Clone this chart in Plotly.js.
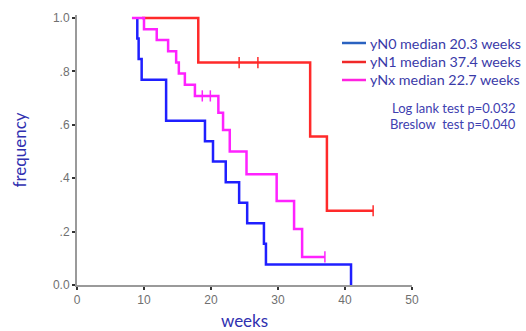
<!DOCTYPE html>
<html>
<head>
<meta charset="utf-8">
<script src="https://cdn.plot.ly/plotly-3.0.1.min.js"></script>
<style>html,body{margin:0;padding:0;background:#fff}#chart{width:526px;height:331px}</style>
</head>
<body>
<div id="chart"></div>
<script>
// Kaplan-Meier step data (weeks, survival frequency)
const yN0_weeks = [9.0, 9.0, 9.2, 9.65, 13.3, 19.1, 20.3, 22.2, 24.2, 25.4, 27.9, 28.2, 40.9];
const yN0_surv  = [1.0, 0.923, 0.846, 0.769, 0.615, 0.538, 0.462, 0.385, 0.308, 0.231, 0.154, 0.077, 0.0];

const yN1_weeks = [9.7, 18.1, 34.8, 37.3, 44.2];
const yN1_surv  = [1.0, 0.833, 0.556, 0.278, 0.278];
const yN1_censor_weeks = [24.2, 27.0, 44.2];
const yN1_censor_surv  = [0.833, 0.833, 0.278];

const yNx_weeks = [8.2, 10.0, 11.9, 13.6, 14.8, 15.2, 16.1, 17.6, 21.1, 21.8, 22.8, 25.3, 29.8, 32.4, 33.6, 37.0];
const yNx_surv  = [1.0, 0.958, 0.917, 0.875, 0.833, 0.792, 0.750, 0.708, 0.645, 0.580, 0.500, 0.415, 0.315, 0.210, 0.105, 0.105];
const yNx_censor_weeks = [18.7, 19.9, 37.0];
const yNx_censor_surv  = [0.708, 0.708, 0.105];

const seriesNames = ['yN0 median 20.3 weeks', 'yN1 median 37.4 weeks', 'yNx median 22.7 weeks'];
const xTicks = [0, 10, 20, 30, 40, 50];
const yTicks = [0, 0.2, 0.4, 0.6, 0.8, 1.0];
const yTickText = ['0.0', '.2', '.4', '.6', '.8', '1.0'];
const testLines = ['Log lank test p=0.032', 'Breslow  test p=0.040'];

const BLUE = '#1f1fff', RED = '#ff2a2a', MAG = '#ff22ff';
const legendColors = ['#2a62c0', '#f02828', '#ff22e0'];
const lw = 2.5;

const traces = [
  {x: yN0_weeks, y: yN0_surv, mode: 'lines', line: {shape: 'hv', color: BLUE, width: lw}, name: seriesNames[0]},
  {x: yN1_weeks, y: yN1_surv, mode: 'lines', line: {shape: 'hv', color: RED, width: lw}, name: seriesNames[1]},
  {x: yNx_weeks, y: yNx_surv, mode: 'lines', line: {shape: 'hv', color: MAG, width: lw}, name: seriesNames[2]},
  {x: yN1_censor_weeks, y: yN1_censor_surv, mode: 'markers',
   marker: {symbol: 'line-ns', size: 8, line: {color: RED, width: 1.5}}},
  {x: yNx_censor_weeks, y: yNx_censor_surv, mode: 'markers',
   marker: {symbol: 'line-ns', size: 8, line: {color: MAG, width: 1.5}}}
];

// plot-area pixel geometry (for placing the hand-made legend in paper coords)
const L = 77, R = 412, T = 15, B = 285;
const px = v => (v - L) / (R - L);
const py = v => (B - v) / (B - T);

const tickFont = {family: 'Liberation Sans, Arial, sans-serif', size: 12, color: '#707070'};
const labelFont = {family: 'Lato, Open Sans, sans-serif', size: 17, color: '#3030b0'};
const legendFont = {family: 'Lato, Open Sans, sans-serif', size: 14.3, color: '#3a3aa8'};

const legendY = [43, 62, 80];
const shapes = legendY.map((yy, i) => ({
  type: 'line', xref: 'paper', yref: 'paper', x0: px(342), x1: px(366), y0: py(yy), y1: py(yy),
  line: {color: legendColors[i], width: 2.5}
}));
const annotations = legendY.map((yy, i) => ({
  xref: 'paper', yref: 'paper', x: px(368), y: py(yy), xanchor: 'left', yanchor: 'middle',
  text: seriesNames[i], showarrow: false, font: legendFont
}));
annotations.push(
  {xref: 'paper', yref: 'paper', x: px(518), y: py(108), xanchor: 'right', yanchor: 'middle',
   text: testLines[0], showarrow: false, font: {family: 'Lato, Open Sans, sans-serif', size: 13, color: '#4040b0'}},
  {xref: 'paper', yref: 'paper', x: px(518), y: py(124), xanchor: 'right', yanchor: 'middle',
   text: testLines[1], showarrow: false, font: {family: 'Lato, Open Sans, sans-serif', size: 13, color: '#4040b0'}}
);

const layout = {
  width: 526, height: 331,
  margin: {l: L, r: 526 - R, t: T, b: 331 - B},
  paper_bgcolor: '#fff', plot_bgcolor: '#fff',
  showlegend: false,
  xaxis: {range: [0, 50], tickvals: xTicks, showgrid: false, zeroline: false,
          showline: true, linecolor: '#9a9a9a', linewidth: 2,
          ticks: 'outside', ticklen: 3, tickwidth: 2, tickcolor: '#333',
          tickfont: tickFont,
          title: {text: 'weeks', font: labelFont, standoff: 14}},
  yaxis: {range: [0, 1.011], tickvals: yTicks, ticktext: yTickText, showgrid: false, zeroline: false,
          showline: true, linecolor: '#9a9a9a', linewidth: 2,
          ticks: 'outside', ticklen: 3, tickwidth: 2, tickcolor: '#333',
          tickfont: tickFont,
          title: {text: 'frequency', font: labelFont, standoff: 22}},
  shapes: shapes,
  annotations: annotations
};

Plotly.newPlot('chart', traces, layout, {displayModeBar: false, staticPlot: true});
</script>
</body>
</html>
